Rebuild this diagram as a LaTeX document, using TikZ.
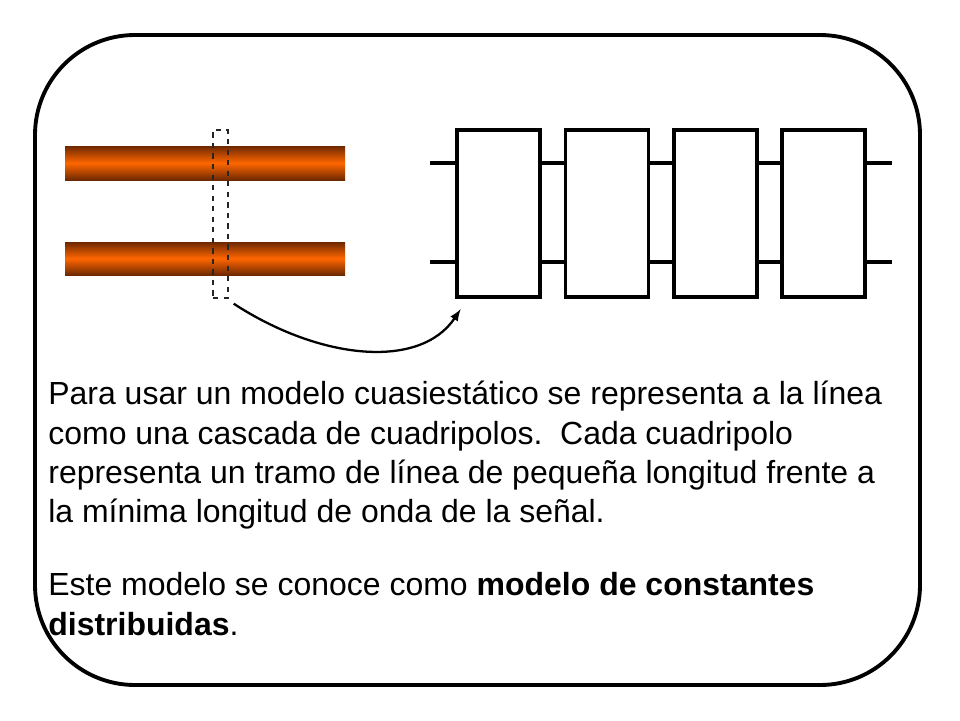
\documentclass[tikz,border=0pt]{standalone}
\usepackage{fontspec}
\setmainfont{Liberation Sans}
\usetikzlibrary{positioning}
\definecolor{wireorange}{RGB}{255,102,0}
\definecolor{wiredark}{RGB}{110,40,0}
\tikzset{
    wire/.style = {
        top color=wiredark,
        bottom color=wiredark,
        middle color=wireorange,
        draw=none,
    },
    quad/.style = {
        rectangle,
        minimum width=1.66cm,
        minimum height=3.34cm,
        line width=1.8pt,
        draw,
    },
    lead/.style = {
        line width=1.8pt,
    },
}
\begin{document}
\begin{tikzpicture}[x=0.02cm,y=-0.02cm]
        \useasboundingbox (0,0) rectangle (960,720);
        % frame
        \draw [line width=2.2pt, rounded corners=2cm] (35,35) rectangle (920,685);

        % line wires
        \fill [wire] (65,146) rectangle (345,180);
        \fill [wire] (65,242) rectangle (345,275);
        \node [draw, dashed, thick, gray!30!black, minimum width=0.3cm, minimum height=3.36cm,
               inner sep=0pt] (slice) at (220.5,214) {};

        % cascade of two-ports
        \node [quad] (q1) at (498.5,213.5) {};
        \node [quad] (q2) at (607,213.5) {};
        \node [quad] (q3) at (715.5,213.5) {};
        \node [quad] (q4) at (823.5,213.5) {};
        \coordinate (inT) at (430,163);
        \coordinate (inB) at (430,262);
        \coordinate (outT) at (892,163);
        \coordinate (outB) at (892,262);
        \draw [lead] (inT) -- (inT -| q1.west);
        \draw [lead] (inB) -- (inB -| q1.west);
        \foreach \a/\b in {q1/q2,q2/q3,q3/q4} {
            \draw [lead] (inT -| \a.east) -- (inT -| \b.west);
            \draw [lead] (inB -| \a.east) -- (inB -| \b.west);
        }
        \draw [lead] (outT -| q4.east) -- (outT);
        \draw [lead] (outB -| q4.east) -- (outB);

        % arrow
        \draw [-latex, line width=1.3pt] (slice.south east) ++(5,5)
            .. controls (320,360) and (420,370) .. ([xshift=3pt,yshift=-6pt]q1.south west);

        % text
        \node [anchor=north west, align=left, font=\fontsize{18.2}{22.4}\selectfont,
               inner sep=0pt] (txt) at (48,381)
        {Para usar un modelo cuasiestático se representa a la línea\\
         como una cascada de cuadripolos.\ \ Cada cuadripolo\\
         representa un tramo de línea de pequeña longitud frente a\\
         la mínima longitud de onda de la señal.\\[19pt]
         Este modelo se conoce como \textbf{modelo de constantes}\\
         \textbf{distribuidas}.};
\end{tikzpicture}
\end{document}
